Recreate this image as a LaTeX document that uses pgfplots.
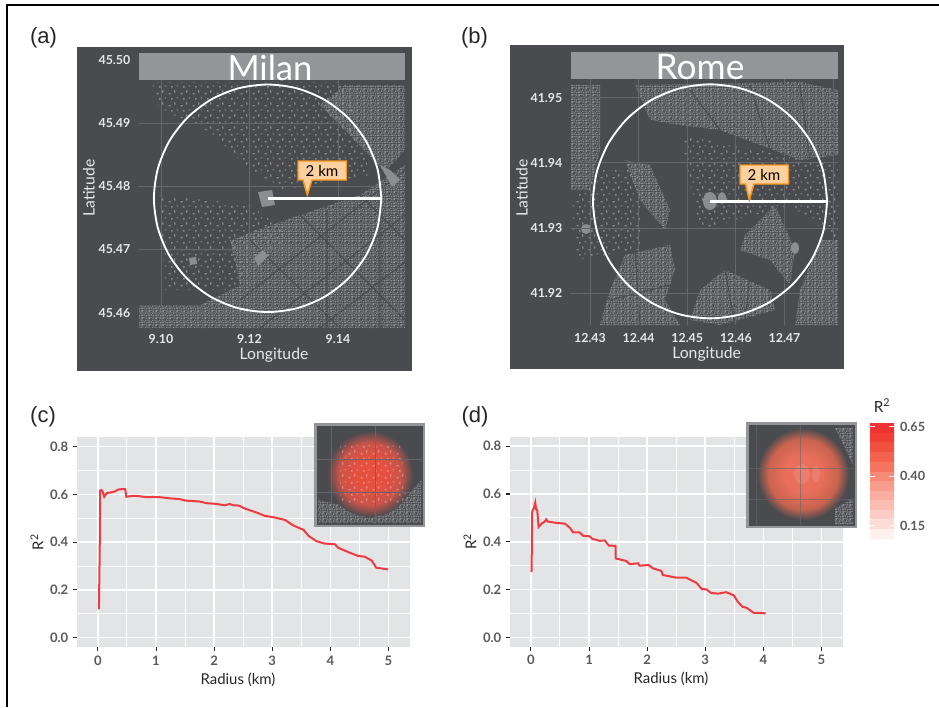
\documentclass[border=0pt]{standalone}
\usepackage{fontspec}
\setmainfont{Lato}
\newfontfamily\helv{Liberation Sans}
\usepackage{pgfplots}
\pgfplotsset{compat=1.18}
\usetikzlibrary{patterns}
\definecolor{mapbg}{HTML}{4A4B4F}
\definecolor{strip}{HTML}{939598}
\definecolor{bld}{HTML}{8C8D90}
\definecolor{gridd}{HTML}{66676B}
\definecolor{panel}{HTML}{E3E4E6}
\definecolor{txt}{HTML}{58595B}
\definecolor{mapt}{HTML}{E6E7E8}
\definecolor{redl}{HTML}{EF3B3F}
\definecolor{orgb}{HTML}{F7941D}
\definecolor{orgf}{HTML}{FDD09F}
\definecolor{HTMLa}{HTML}{E5503F}
\definecolor{HTMLb}{HTML}{C9544A}
\definecolor{HTMLc}{HTML}{E96F5C}
\definecolor{HTMLd}{HTML}{C9634F}
\pgfdeclarepatternformonly{bdense}{\pgfqpoint{0pt}{0pt}}{\pgfqpoint{5.2pt}{5.2pt}}{\pgfqpoint{5.2pt}{5.2pt}}{%
\pgfpathrectangle{\pgfqpoint{0.2pt}{0.2pt}}{\pgfqpoint{1.6pt}{1pt}}%
\pgfpathrectangle{\pgfqpoint{2.6pt}{0.1pt}}{\pgfqpoint{1pt}{1.5pt}}%
\pgfpathrectangle{\pgfqpoint{4pt}{0.6pt}}{\pgfqpoint{1pt}{1pt}}%
\pgfpathrectangle{\pgfqpoint{0.4pt}{2pt}}{\pgfqpoint{1.2pt}{0.9pt}}%
\pgfpathrectangle{\pgfqpoint{2.2pt}{2.4pt}}{\pgfqpoint{1.5pt}{0.9pt}}%
\pgfpathrectangle{\pgfqpoint{4.2pt}{2.3pt}}{\pgfqpoint{0.8pt}{1.5pt}}%
\pgfpathrectangle{\pgfqpoint{0.1pt}{3.6pt}}{\pgfqpoint{1pt}{1.3pt}}%
\pgfpathrectangle{\pgfqpoint{1.8pt}{4.1pt}}{\pgfqpoint{1.3pt}{0.8pt}}%
\pgfpathrectangle{\pgfqpoint{3.5pt}{4pt}}{\pgfqpoint{0.5pt}{0.9pt}}%
\pgfusepath{fill}}
\pgfdeclarepatternformonly{bsparse}{\pgfqpoint{0pt}{0pt}}{\pgfqpoint{9pt}{9pt}}{\pgfqpoint{9pt}{9pt}}{\pgfpathrectangle{\pgfqpoint{0.5pt}{0.5pt}}{\pgfqpoint{1.6pt}{1pt}}\pgfpathrectangle{\pgfqpoint{5pt}{2pt}}{\pgfqpoint{1pt}{1.8pt}}\pgfpathrectangle{\pgfqpoint{2.5pt}{6pt}}{\pgfqpoint{1.2pt}{1.2pt}}\pgfpathrectangle{\pgfqpoint{7pt}{7pt}}{\pgfqpoint{1.2pt}{0.8pt}}\pgfusepath{fill}}
\pgfdeclareradialshading{glowc}{\pgfpoint{0bp}{0bp}}{color(0bp)=(HTMLa);color(9bp)=(HTMLa);color(18bp)=(HTMLb);color(25bp)=(mapbg);color(50bp)=(mapbg)}
\pgfdeclareradialshading{glowd}{\pgfpoint{0bp}{0bp}}{color(0bp)=(HTMLc);color(10bp)=(HTMLc);color(19bp)=(HTMLd);color(25bp)=(mapbg);color(50bp)=(mapbg)}
\pgfplotsset{
  mapaxis/.style={
    scale only axis, axis lines=box, axis line style={draw=none},
    grid=major, grid style={gridd,line width=.7pt},
    tick align=outside, xtick pos=bottom, ytick pos=left,
    major tick length=2pt, tick style={black!70},
    ticklabel style={font=\fontsize{9.3}{10}\selectfont\bfseries,text=mapt},
    yticklabel style={xshift=-1pt},
    label style={font=\fontsize{11.8}{13}\selectfont,text=mapt},
  },
  ratio/.style={
    scale only axis, width=249.75pt, height=157.5pt,
    axis lines=box, axis line style={draw=none},
    axis background/.style={fill=panel},
    xmin=-0.36, xmax=5.37, ymin=-0.039, ymax=0.84,
    xtick={0,1,2,3,4,5}, ytick={0,0.2,0.4,0.6,0.8},
    xticklabels={0,1,2,3,4,5}, yticklabels={0.0,0.2,0.4,0.6,0.8},
    minor tick num=1, grid=both,
    major grid style={white,line width=1.2pt},
    minor grid style={white,line width=.75pt},
    tick align=outside, xtick pos=bottom, ytick pos=left,
    major tick length=3pt, minor tick length=0pt, tick style={black!85,line width=.8pt},
    ticklabel style={font=\fontsize{9.8}{11}\selectfont\bfseries,text=txt},
    label style={font=\fontsize{11.2}{13}\selectfont,text=black!85},
    xlabel={Radius (km)}, ylabel={R\textsuperscript{2}},
    xlabel style={at={(axis description cs:0.4835,-0.155)},anchor=center},
    ylabel style={at={(axis description cs:-0.12,0.5)},anchor=center,rotate=0},
  },
}
\begin{document}
\begin{tikzpicture}[x=.75pt,y=-.75pt]
\path[use as bounding box] (0,0) rectangle (939,707);
\draw[black,line width=1.3pt] (7,707) -- (7,5) -- (939,5);

% ---------- panel a backdrop
\fill[mapbg] (77,47) rectangle (412,371);
\fill[pattern=bdense,pattern color=bld] (230,240) -- (300,215) -- (360,195) -- (405,165) -- (405,328) -- (139,328) -- (139,305) -- (200,305) -- (240,285) -- cycle;
\fill[pattern=bdense,pattern color=bld] (345,85) -- (405,85) -- (405,150) -- (385,172) -- (350,135) -- (320,105) -- cycle;
\fill[pattern=bsparse,pattern color=bld] (150,82) -- (345,82) -- (370,175) -- (280,190) -- (240,160) -- (200,125) -- (160,110) -- cycle;
\fill[pattern=bsparse,pattern color=bld] (160,195) -- (250,205) -- (290,235) -- (230,290) -- (165,290) -- cycle;
\draw[mapbg,line width=.8pt] (240,300) -- (405,170) (260,328) -- (405,215) (320,328) -- (405,262) (250,240) -- (340,328) (300,215) -- (405,320) (360,195) -- (405,240) (327,210) -- (327,328) (380,185) -- (380,328);
\fill[bld] (258,192) -- (272,190) -- (275,205) -- (262,207) -- cycle;
\fill[bld] (254,258) -- (263,250) -- (268,256) -- (258,266) -- cycle;
\fill[bld] (189,258) -- (196,257) -- (197,264) -- (190,265) -- cycle;
\fill[bld] (380,165) -- (390,170) -- (400,180) -- (392,187) -- cycle;

% ---------- panel b backdrop
\fill[mapbg] (510,45) rectangle (844,369);
\fill[pattern=bdense,pattern color=bld] (571,85) -- (600,85) -- (600,150) -- (590,190) -- (571,190) -- cycle;
\fill[pattern=bdense,pattern color=bld] (635,85) -- (800,82) -- (838,90) -- (838,155) -- (800,160) -- (760,145) -- (720,130) -- (680,125) -- (650,120) -- cycle;
\fill[pattern=bdense,pattern color=bld] (625,160) -- (650,165) -- (670,210) -- (665,230) -- (640,200) -- cycle;
\fill[pattern=bdense,pattern color=bld] (625,255) -- (670,245) -- (675,270) -- (665,300) -- (680,325) -- (600,325) -- (610,290) -- cycle;
\fill[pattern=bdense,pattern color=bld] (700,290) -- (725,270) -- (770,290) -- (775,310) -- (720,325) -- (690,320) -- cycle;
\fill[pattern=bdense,pattern color=bld] (745,235) -- (775,205) -- (795,250) -- (790,285) -- (770,260) -- (740,250) -- cycle;
\fill[pattern=bdense,pattern color=bld] (820,240) -- (838,240) -- (838,325) -- (795,325) -- (800,290) -- cycle;
\fill[pattern=bsparse,pattern color=bld] (600,170) -- (640,170) -- (640,250) -- (575,260) -- (571,200) -- cycle;
\fill[pattern=bsparse,pattern color=bld] (680,135) -- (838,165) -- (838,240) -- (790,205) -- (700,230) -- cycle;
\draw[mapbg,line width=.8pt] (725,270) -- (735,325) (750,275) -- (745,320) (635,250) -- (640,325) (610,300) -- (670,285) (690,90) -- (720,130) (750,85) -- (770,150) (800,85) -- (810,160);
\fill[bld] (710,201) ellipse [x radius=7,y radius=9];
\fill[bld] (722,198) ellipse [x radius=4,y radius=6];
\fill[bld] (795,248) ellipse [x radius=4,y radius=6];
\fill[bld] (586,229) ellipse [x radius=5,y radius=5];

% ---------- panel a axis
\begin{axis}[mapaxis, at={(104.25pt,-39.75pt)}, anchor=north west,
  width=199.5pt, height=206.25pt,
  xmin=9.09503, xmax=9.15514, ymin=45.4576, ymax=45.50106,
  xticklabel style={yshift=.6pt},
  xtick={9.10,9.12,9.14}, xticklabels={9.10,9.12,9.14},
  ytick={45.46,45.47,45.48,45.49,45.50}, yticklabels={45.46,45.47,45.48,45.49,45.50},
  xlabel={Longitude}, ylabel={Latitude},
  xlabel style={at={(axis description cs:0.5075,-0.098)},anchor=center},
  ylabel style={at={(axis description cs:-0.188,0.509)},anchor=center,rotate=0},
]
\addplot[white,line width=1.4pt,smooth,no markers] coordinates {
(9.1498,45.4781)(9.14892,45.48275)(9.14636,45.48709)(9.14227,45.49081)(9.13695,45.49367)(9.13075,45.49547)(9.1241,45.49608)(9.11745,45.49547)(9.11125,45.49367)(9.10593,45.49081)(9.10184,45.48709)(9.09928,45.48275)(9.0984,45.4781)(9.09928,45.47345)(9.10184,45.46911)(9.10593,45.46539)(9.11125,45.46253)(9.11745,45.46073)(9.1241,45.46012)(9.13075,45.46073)(9.13695,45.46253)(9.14227,45.46539)(9.14636,45.46911)(9.14892,45.47345)(9.1498,45.4781)};
\addplot[white,line width=2.6pt,no markers] coordinates {(9.1241,45.4781)(9.14965,45.4781)};
\end{axis}
\fill[strip] (139,53) rectangle (405,80);
\begin{scope}
\clip (139,53) rectangle (405,80);
\node[anchor=base,text=white,font=\fontsize{26}{28}\selectfont,inner sep=0pt] at (270,80) {Milan};
\end{scope}
\fill[orgf,draw=orgb,line width=1.1pt] (298,161) -- (346.5,161) -- (346.5,180) -- (312,180) -- (307.3,195) -- (303,180) -- (298,180) -- cycle;
\node[font=\fontsize{11.3}{13}\selectfont,text=black,inner sep=0pt] at (322,171) {2 km};

% ---------- panel b axis
\begin{axis}[mapaxis, at={(428.25pt,-39pt)}, anchor=north west,
  width=200.25pt, height=204.75pt,
  xmin=12.4261, xmax=12.4810, ymin=41.91514, ymax=41.9570,
  xticklabel style={yshift=-.6pt},
  xtick={12.43,12.44,12.45,12.46,12.47,12.48}, xticklabels={12.43,12.44,12.45,12.46,12.47,},
  ytick={41.92,41.93,41.94,41.95}, yticklabels={41.92,41.93,41.94,41.95},
  xlabel={Longitude}, ylabel={Latitude},
  xlabel style={at={(axis description cs:0.508,-0.106)},anchor=center},
  ylabel style={at={(axis description cs:-0.184,0.503)},anchor=center,rotate=0},
]
\addplot[white,line width=1.4pt,smooth,no markers] coordinates {
(12.47877,41.9341)(12.47795,41.93874)(12.47554,41.94307)(12.47172,41.94679)(12.46674,41.94964)(12.46093,41.95143)(12.4547,41.95204)(12.44847,41.95143)(12.44266,41.94964)(12.43768,41.94679)(12.43386,41.94307)(12.43145,41.93874)(12.43063,41.9341)(12.43145,41.92946)(12.43386,41.92513)(12.43768,41.92141)(12.44266,41.91856)(12.44847,41.91677)(12.4547,41.91616)(12.46093,41.91677)(12.46674,41.91856)(12.47172,41.92141)(12.47554,41.92513)(12.47795,41.92946)(12.47877,41.9341)};
\addplot[white,line width=2.6pt,no markers] coordinates {(12.4547,41.9341)(12.4788,41.9341)};
\end{axis}
\fill[strip] (571,52) rectangle (838,79);
\begin{scope}
\clip (571,52) rectangle (838,79);
\node[anchor=base,text=white,font=\fontsize{26.5}{28}\selectfont,inner sep=0pt] at (700,79) {Rome};
\end{scope}
\fill[orgf,draw=orgb,line width=1.1pt] (740,165) -- (788.5,165) -- (788.5,184) -- (754,184) -- (749.3,200) -- (745.5,184) -- (740,184) -- cycle;
\node[font=\fontsize{11.3}{13}\selectfont,text=black,inner sep=0pt] at (764,175) {2 km};

% ---------- panel c
\begin{axis}[ratio, at={(57.75pt,-327.75pt)}, anchor=north west]
\addplot[redl,line width=1.5pt,no markers] coordinates {
(0.017,0.119)(0.03,0.35)(0.04,0.616)(0.063,0.618)(0.08,0.612)(0.109,0.59)(0.15,0.605)(0.22,0.608)(0.29,0.612)(0.35,0.62)(0.41,0.622)(0.47,0.622)(0.49,0.59)(0.61,0.594)(0.72,0.592)(0.84,0.588)(0.95,0.589)(1.07,0.588)(1.25,0.583)(1.41,0.58)(1.5,0.574)(1.75,0.57)(1.87,0.563)(2.04,0.56)(2.18,0.554)(2.27,0.56)(2.33,0.554)(2.43,0.553)(2.53,0.54)(2.73,0.524)(2.87,0.51)(3.02,0.504)(3.22,0.493)(3.36,0.47)(3.54,0.451)(3.62,0.427)(3.76,0.404)(3.9,0.394)(4.08,0.391)(4.13,0.377)(4.33,0.356)(4.48,0.342)(4.59,0.339)(4.71,0.323)(4.79,0.293)(4.99,0.286)};
\end{axis}

% ---------- panel d
\begin{axis}[ratio, at={(382.5pt,-327.5pt)}, anchor=north west]
\addplot[redl,line width=1.5pt,no markers] coordinates {
(0,0.275)(0.011,0.278)(0.023,0.529)(0.05,0.54)(0.074,0.564)(0.09,0.536)(0.109,0.532)(0.132,0.462)(0.183,0.476)(0.24,0.485)(0.263,0.494)(0.286,0.485)(0.44,0.479)(0.584,0.476)(0.67,0.459)(0.727,0.439)(0.84,0.439)(0.9,0.425)(1.01,0.423)(1.06,0.412)(1.186,0.404)(1.27,0.406)(1.34,0.384)(1.455,0.383)(1.46,0.33)(1.64,0.32)(1.7,0.306)(1.844,0.31)(1.87,0.3)(2.02,0.303)(2.1,0.289)(2.245,0.278)(2.27,0.261)(2.417,0.254)(2.5,0.25)(2.67,0.25)(2.85,0.228)(2.94,0.202)(3.02,0.201)(3.1,0.186)(3.22,0.183)(3.36,0.189)(3.49,0.176)(3.56,0.149)(3.64,0.128)(3.71,0.124)(3.83,0.103)(3.93,0.103)(4.04,0.1)};
\end{axis}

% ---------- inset c
\fill[strip] (314,423) rectangle (425,527);
\fill[mapbg] (316.5,425.5) rectangle (422.5,524.5);
\fill[pattern=bdense,pattern color=bld] (318,500) -- (340,505) -- (400,505) -- (421,480) -- (421,523) -- (318,523) -- cycle;
\shade[shading=glowc] (370,474) circle (43);
\fill[pattern=bsparse,pattern color=white,opacity=.35] (340,445) -- (400,445) -- (408,505) -- (340,505) -- cycle;
\draw[gridd,line width=.4pt] (331,426) -- (331,524) (375,426) -- (375,524) (317,459) -- (422,459) (317,492) -- (422,492);

% ---------- inset d
\fill[strip] (746,422) rectangle (857,528);
\fill[mapbg] (748.5,424.5) rectangle (854.5,525.5);
\fill[pattern=bdense,pattern color=bld] (835,428) -- (853,428) -- (853,465) -- cycle;
\fill[pattern=bdense,pattern color=bld] (835,525) -- (853,525) -- (853,498) -- (835,508) -- cycle;
\shade[shading=glowd] (803,474) circle (46);
\fill[HTMLc!90!white] (802,474) ellipse [x radius=8,y radius=10];
\fill[HTMLc!90!white] (816,474) ellipse [x radius=4,y radius=8];
\draw[gridd,line width=.4pt,opacity=.6] (756,425) -- (756,525) (800,425) -- (800,525) (749,468) -- (854,468) (749,499) -- (854,499);

% ---------- colour legend
\begin{axis}[scale only axis, at={(652.5pt,-317.25pt)}, anchor=north west,
  width=18pt, height=87pt, xmin=0, xmax=1, ymin=0.083, ymax=0.67,
  axis lines=box, axis line style={draw=none}, axis on top,
  xtick=\empty, ytick={0.15,0.40,0.65}, yticklabels={0.15,0.40,0.65},
  ytick pos=both, yticklabel pos=right, tick align=inside,
  major tick length=3.6pt, tick style={white,line width=.7pt},
  ticklabel style={font=\fontsize{9.5}{11}\selectfont\bfseries,text=txt},
  yticklabel style={xshift=1pt},
  every axis plot/.append style={no markers,draw=none,forget plot},
]
\addplot[fill={rgb,255:red,240;green,50;blue,53}] coordinates {(0,0.62)(1,0.62)(1,0.67)(0,0.67)(0,0.62)};
\addplot[fill={rgb,255:red,241;green,62;blue,54}] coordinates {(0,0.574)(1,0.574)(1,0.62)(0,0.62)(0,0.574)};
\addplot[fill={rgb,255:red,242;green,80;blue,63}] coordinates {(0,0.524)(1,0.524)(1,0.574)(0,0.574)(0,0.524)};
\addplot[fill={rgb,255:red,244;green,99;blue,79}] coordinates {(0,0.473)(1,0.473)(1,0.524)(0,0.524)(0,0.473)};
\addplot[fill={rgb,255:red,246;green,117;blue,96}] coordinates {(0,0.423)(1,0.423)(1,0.473)(0,0.473)(0,0.423)};
\addplot[fill={rgb,255:red,247;green,138;blue,118}] coordinates {(0,0.376)(1,0.376)(1,0.423)(0,0.423)(0,0.376)};
\addplot[fill={rgb,255:red,248;green,156;blue,139}] coordinates {(0,0.327)(1,0.327)(1,0.376)(0,0.376)(0,0.327)};
\addplot[fill={rgb,255:red,250;green,174;blue,162}] coordinates {(0,0.28)(1,0.28)(1,0.327)(0,0.327)(0,0.28)};
\addplot[fill={rgb,255:red,251;green,189;blue,178}] coordinates {(0,0.229)(1,0.229)(1,0.28)(0,0.28)(0,0.229)};
\addplot[fill={rgb,255:red,252;green,204;blue,197}] coordinates {(0,0.182)(1,0.182)(1,0.229)(0,0.229)(0,0.182)};
\addplot[fill={rgb,255:red,253;green,220;blue,215}] coordinates {(0,0.133)(1,0.133)(1,0.182)(0,0.182)(0,0.133)};
\addplot[fill={rgb,255:red,254;green,240;blue,237}] coordinates {(0,0.083)(1,0.083)(1,0.133)(0,0.133)(0,0.083)};
\end{axis}
\node[font=\fontsize{11.5}{13}\selectfont,text=black!85,inner sep=0pt] at (882,406) {R\textsuperscript{2}};

% ---------- panel letters
\node[font=\helv\fontsize{16.5}{18}\selectfont,inner sep=0pt,text=black!85] at (43.5,38) {(a)};
\node[font=\helv\fontsize{16.5}{18}\selectfont,inner sep=0pt,text=black!85] at (474.5,38) {(b)};
\node[font=\helv\fontsize{16.5}{18}\selectfont,inner sep=0pt,text=black!85] at (43,417) {(c)};
\node[font=\helv\fontsize{16.5}{18}\selectfont,inner sep=0pt,text=black!85] at (475,417) {(d)};
\end{tikzpicture}
\end{document}
